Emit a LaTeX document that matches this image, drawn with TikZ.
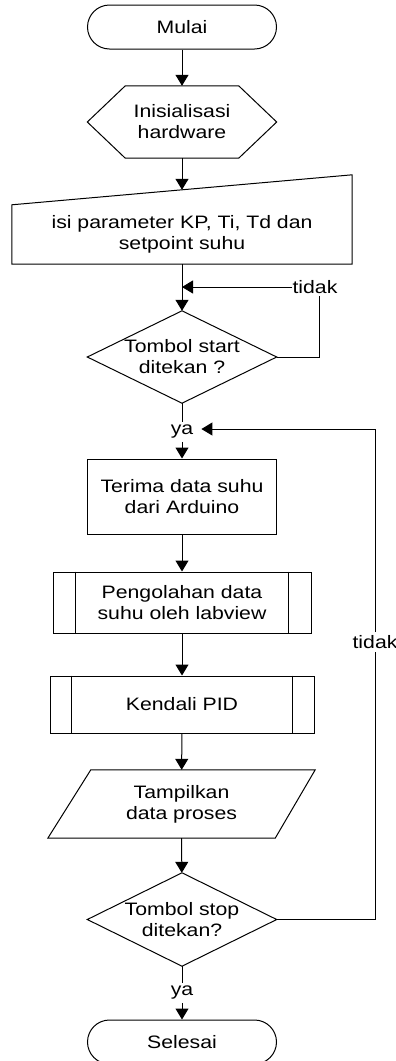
\documentclass[tikz,border=0pt]{standalone}
\usepackage{fontspec}
\setmainfont{Liberation Sans}[FakeStretch=1.18]
\usetikzlibrary{arrows.meta,calc}

\begin{document}
\begin{tikzpicture}[x=1pt,y=-1pt,
  every node/.style={font=\fontsize{18}{21}\selectfont, align=center, inner sep=0pt},
  flow/.style={line width=1pt},
  arr/.style={flow, -{Triangle[length=11pt,width=13pt]}},
  outline/.style={draw, line width=1pt},
  term/.style={outline, rounded corners=22pt, minimum width=189pt, minimum height=44pt},
  procbox/.style={outline, minimum width=189pt, minimum height=75pt},
  holder/.style 2 args={minimum width=#1, minimum height=#2},
  tag/.style={inner xsep=0pt, inner ysep=3pt}
]
\useasboundingbox (0,0) rectangle (396,1061);

% start terminator
\node[term] (mulai) at (182,27) {Mulai};

% preparation (hexagon)
\node[holder={189pt}{72pt}] (init) at (182,122) {Inisialisasi\\hardware};
\draw[outline] (init.west) -- ([xshift=38pt]init.north west) -- ([xshift=-38pt]init.north east)
  -- (init.east) -- ([xshift=-38pt]init.south east) -- ([xshift=38pt]init.south west) -- cycle;

% manual input
\node[holder={340pt}{59pt}] (param) at (182,234.5) {isi parameter KP, Ti, Td dan\\setpoint suhu};
\draw[outline] (param.south west) -- (param.north west) -- ([yshift=30pt]param.north east)
  -- (param.south east) -- cycle;
\coordinate (paramtop) at ([yshift=15pt]param.north);

\coordinate (merge) at (182,287);

% start decision
\node[holder={189pt}{92pt}] (start) at (182,357) {Tombol start\\ditekan ?};
\draw[outline] (start.north) -- (start.east) -- (start.south) -- (start.west) -- cycle;
\node[tag, inner ysep=2pt] (tidakA) at (315,287) {tidak};
\node[tag] (yaA) at (182,432) {ya};

% processing steps
\node[procbox] (terima) at (182,496.5) {Terima data suhu\\dari Arduino};

\node[procbox, minimum width=258pt, minimum height=61pt] (olah) at (182,602.5) {Pengolahan data\\suhu oleh labview};
\draw[outline] ([xshift=23pt]olah.north west) -- ([xshift=23pt]olah.south west);
\draw[outline] ([xshift=-23pt]olah.north east) -- ([xshift=-23pt]olah.south east);

\node[procbox, minimum width=264pt, minimum height=57pt] (pid) at (182,704.5) {Kendali PID};
\draw[outline] ([xshift=22pt]pid.north west) -- ([xshift=22pt]pid.south west);
\draw[outline] ([xshift=-22pt]pid.north east) -- ([xshift=-22pt]pid.south east);

% output (parallelogram)
\node[holder={267pt}{68pt}] (tampil) at (181.5,804) {Tampilkan\\data proses};
\draw[outline] ([xshift=43pt]tampil.north west) -- (tampil.north east)
  -- ([xshift=-40pt]tampil.south east) -- (tampil.south west) -- cycle;

% stop decision
\node[holder={189pt}{93pt}] (stop) at (182,919.5) {Tombol stop\\ditekan?};
\draw[outline] (stop.north) -- (stop.east) -- (stop.south) -- (stop.west) -- cycle;
\node[tag] (tidakB) at (375,642) {tidak};
\node[tag] (yaB) at (182,993) {ya};

% end terminator
\node[term] (selesai) at (182,1042) {Selesai};

% connectors
\draw[arr] (mulai) -- (init);
\draw[arr] (init) -- (paramtop);
\draw[flow] (param.south) -- (merge);
\draw[arr] (merge) -- (start.north);
\draw[flow] (start.east) -| ([xshift=4pt]tidakA.south);
\draw[arr] (tidakA.west) -- (merge);
\draw[flow] (start.south) -- (yaA.north);
\draw[arr] (yaA.south) -- (terima.north);
\draw[arr] (terima) -- (olah);
\draw[arr] (olah) -- (pid);
\draw[arr] (pid) -- (tampil);
\draw[arr] (tampil) -- (stop);
\draw[flow] (stop.east) -| (tidakB.south);
\draw[arr] (tidakB.north) |- ([xshift=8pt,yshift=3pt]yaA.east);
\draw[flow] (stop.south) -- (yaB.north);
\draw[arr] (yaB.south) -- (selesai.north);
\end{tikzpicture}
\end{document}
